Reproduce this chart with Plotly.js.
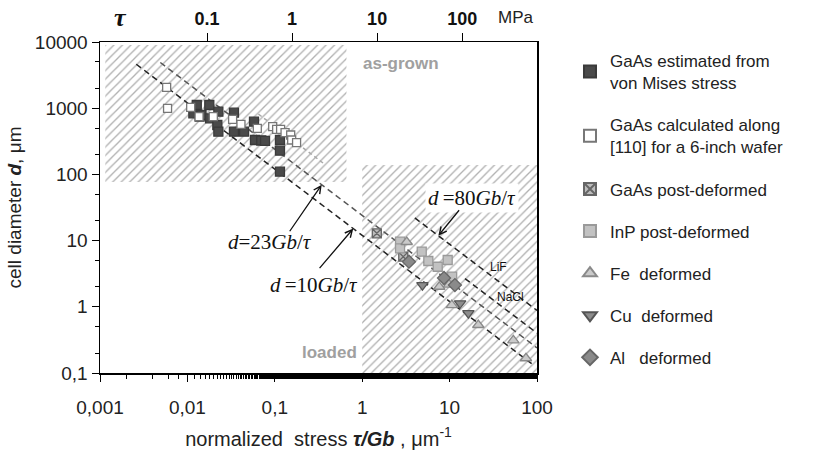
<!DOCTYPE html>
<html><head><meta charset="utf-8">
<script src="https://cdn.plot.ly/plotly-3.0.1.min.js"></script>
<style>body{margin:0;background:#fff}#c{width:830px;height:452px}</style>
</head><body><div id="c"></div>
<script>
// ---- data ----
const vmX = [0.0117, 0.0128, 0.0138, 0.0145, 0.0178, 0.0182, 0.0220, 0.0226, 0.0226, 0.0341, 0.0341, 0.0445, 0.0578, 0.0593, 0.0700, 0.0773, 0.1146, 0.1146, 0.1146];
const vmY = [837, 1117, 745, 789, 1117, 704, 557, 885, 442, 855, 442, 442, 625, 331, 325, 320, 331, 228, 110];
const calcX = [0.00579, 0.00593, 0.0109, 0.0136, 0.0198, 0.0329, 0.0410, 0.0631, 0.0946, 0.105, 0.1165, 0.131, 0.152, 0.156, 0.1775];
const calcY = [2069, 996, 1032, 744, 744, 680, 571, 497, 526, 480, 480, 427, 394, 331, 301];
const pdX = [1.47, 2.95];
const pdY = [12.9, 5.71];
const inpX = [2.71, 2.71, 4.80, 5.71, 7.31, 9.51, 10.7];
const inpY = [9.62, 7.65, 6.80, 4.92, 4.03, 5.09, 2.85];
const feX = [3.23, 7.62, 9.84, 10.6, 21.3, 53.6, 74.8];
const feY = [9.53, 2.01, 2.17, 1.06, 0.531, 0.312, 0.167];
const cuX = [4.89, 13.2, 16.4];
const cuY = [2.13, 1.13, 0.80];
const alX = [3.43, 8.63, 11.5];
const alY = [4.80, 2.72, 2.13];

// d = K / (tau/Gb) reference lines
const lineK  = [12, 24, 53, 88, 40];
const lineX0 = [0.0026, 0.0049, 0.065, 4.0, 15];
const lineX1 = [90, 100, 0.375, 100, 100];
const arrowLine = [1, 0, 3];          // index into lineK
const arrowTipX = [0.344, 0.791, 7.43];

// hatched regions [xmin, xmax, ymin, ymax]
const grownBox  = [0.00115, 0.66, 77, 9000];
const loadedBox = [1.0, 100, 0.1, 139];

const xTickVals = [0.001, 0.01, 0.1, 1, 10, 100];
const xTickText = ['0,001', '0,01', '0,1', '1', '10', '100'];
const yTickVals = [0.1, 1, 10, 100, 1000, 10000];
const yTickText = ['0,1', '1', '10', '100', '1000', '10000'];
const topTickVals = [0.1, 1, 10, 100];
const topTickText = ['0.1', '1', '10', '100'];

const names = ['GaAs estimated from<br>von Mises stress', 'GaAs calculated along<br>[110] for a 6-inch wafer',
  'GaAs post-deformed', 'InP post-deformed', 'Fe\u00a0 deformed', 'Cu\u00a0 deformed', 'Al\u00a0\u00a0 deformed'];

// ---- styles ----
const SANS = 'Liberation Sans, Arial, sans-serif';
const SERIF = 'Liberation Serif, Times New Roman, serif';
const lineColor = ['#222', '#555', '#aaa', '#222', '#222'];
const lineDash = ['6px,4px', '6px,4px', '4px,3px', '6px,4px', '6px,4px'];

function boxTrace(b) {
  return {x: [b[0], b[1], b[1], b[0], b[0]], y: [b[2], b[2], b[3], b[3], b[2]],
    mode: 'lines', line: {width: 0}, fill: 'toself', fillcolor: '#fff',
    fillpattern: {shape: '/', size: 6, solidity: 0.22, fgcolor: '#b0b0b0', bgcolor: '#fff'},
    hoverinfo: 'skip', showlegend: false};
}
const traces = [boxTrace(grownBox), boxTrace(loadedBox)];
lineK.forEach((k, i) => {
  traces.push({x: [lineX0[i], lineX1[i]], y: [k / lineX0[i], k / lineX1[i]], mode: 'lines',
    line: {color: lineColor[i], width: 1.5, dash: lineDash[i]}, hoverinfo: 'skip', showlegend: false});
});
function mk(x, y, name, sym, fill, lc, size, g) {
  return {x, y, name, mode: 'markers', legendgroup: g,
    marker: {symbol: sym, color: fill, size: size, line: {color: lc, width: 1.3}}};
}
traces.push(mk(vmX, vmY, names[0], 'square', '#4a4a4a', '#3a3a3a', 9, 'a'));
traces.push(mk(calcX, calcY, names[1], 'square', '#fff', '#777', 8, 'b'));
traces.push(mk(pdX, pdY, names[2], 'square-x', '#bdbdbd', '#666', 9, 'c'));
traces.push(mk(inpX, inpY, names[3], 'square', '#c2c2c2', '#9a9a9a', 9, 'd'));
traces.push(mk(feX, feY, names[4], 'triangle-up', '#cacaca', '#8a8a8a', 10, 'e'));
traces.push(mk(cuX, cuY, names[5], 'triangle-down', '#8c8c8c', '#555', 10, 'f'));
traces.push(mk(alX, alY, names[6], 'diamond', '#8a8a8a', '#666', 10, 'g'));
traces.push({x: [], y: [], xaxis: 'x2', yaxis: 'y', showlegend: false, hoverinfo: 'skip'});

const L = Math.log10;
function txt(x, y, text, font, extra) {
  return Object.assign({xref: 'paper', yref: 'paper', x, y, text, showarrow: false,
    xanchor: 'center', yanchor: 'middle', font}, extra || {});
}
const ann = [
  txt(0.048, 1.073, '<b><i>τ</i></b>', {family: SERIF, size: 26, color: '#111'}),
  txt(0.952, 1.073, 'MPa', {family: SANS, size: 17, color: '#222'}),
  txt(0.688, 0.934, '<b>as-grown</b>', {family: SANS, size: 17, color: '#a0a0a0'}),
  txt(0.526, 0.063, '<b>loaded</b>', {family: SANS, size: 17, color: '#a0a0a0'}),
  txt(0.389, 0.396, '<i>d</i>=23<i>Gb</i>/<i>τ</i>', {family: SERIF, size: 21, color: '#111'}),
  txt(0.49, 0.266, '<i>d</i>\u2009=10<i>Gb</i>/<i>τ</i>', {family: SERIF, size: 21, color: '#111'}),
  txt(0.851, 0.529, '<i>d</i>\u2009=80<i>Gb</i>/<i>τ</i>', {family: SERIF, size: 21, color: '#111'}, {bgcolor: '#fff', borderpad: 2}),
  txt(0.911, 0.32, 'LiF', {family: SANS, size: 12, color: '#111'}),
  txt(0.940, 0.23, 'NaCl', {family: SANS, size: 12, color: '#111'})
];
const arrowOff = [[-33, 48], [-35, 41], [22, -27]];
arrowTipX.forEach((tx, i) => {
  const k = lineK[arrowLine[i]];
  ann.push({xref: 'x', yref: 'y', x: L(tx), y: L(k / tx), ax: arrowOff[i][0], ay: arrowOff[i][1], text: '',
    showarrow: true, arrowhead: 5, arrowsize: 1.1, arrowwidth: 1.3, arrowcolor: '#111'});
});

const layout = {
  width: 830, height: 452, margin: {l: 100, r: 293, t: 42, b: 79},
  paper_bgcolor: '#fff', plot_bgcolor: '#fff', showlegend: true,
  font: {family: SANS, color: '#222'},
  xaxis: {type: 'log', range: [-3, 2], tickvals: xTickVals, ticktext: xTickText, ticks: 'outside', ticklen: 7,
    tickcolor: '#000', showline: true, linecolor: '#000', linewidth: 1.5, showgrid: false, zeroline: false,
    tickfont: {family: SANS, size: 19, color: '#222'}, ticklabelstandoff: 10,
    minor: {ticks: 'outside', ticklen: 4, tickcolor: '#000', showgrid: false},
    title: {text: 'normalized  stress <b><i>τ/Gb</i></b> , μm<sup>-1</sup>', font: {family: SANS, size: 20, color: '#222'}, standoff: 14}},
  xaxis2: {type: 'log', overlaying: 'x', side: 'top', anchor: 'y', range: [-2.259, 2.88], tickvals: topTickVals, ticktext: topTickText,
    ticks: 'outside', ticklen: 8, tickcolor: '#000', showline: true, linecolor: '#000', linewidth: 1.5, showgrid: false, zeroline: false,
    tickfont: {family: SANS, size: 18, color: '#111', weight: 'bold'}},
  yaxis: {type: 'log', range: [-1, 4], tickvals: yTickVals, ticktext: yTickText, ticks: 'outside', ticklen: 7,
    tickcolor: '#000', showline: true, mirror: true, linecolor: '#000', linewidth: 1.5, showgrid: false, zeroline: false,
    tickfont: {family: SANS, size: 19, color: '#222'},
    minor: {ticks: 'outside', ticklen: 4, tickcolor: '#000', showgrid: false},
    title: {text: 'cell diameter <b><i>d</i></b>, μm', font: {family: SANS, size: 19, color: '#222'}, standoff: 8}},
  legend: {x: 1.0755, y: 0.997, xanchor: 'left', yanchor: 'top', font: {family: SANS, size: 17, color: '#222'},
    tracegroupgap: 17, itemsizing: 'constant', bgcolor: 'rgba(0,0,0,0)'},
  annotations: ann
};
Plotly.newPlot('c', traces, layout, {staticPlot: true});
</script></body></html>
